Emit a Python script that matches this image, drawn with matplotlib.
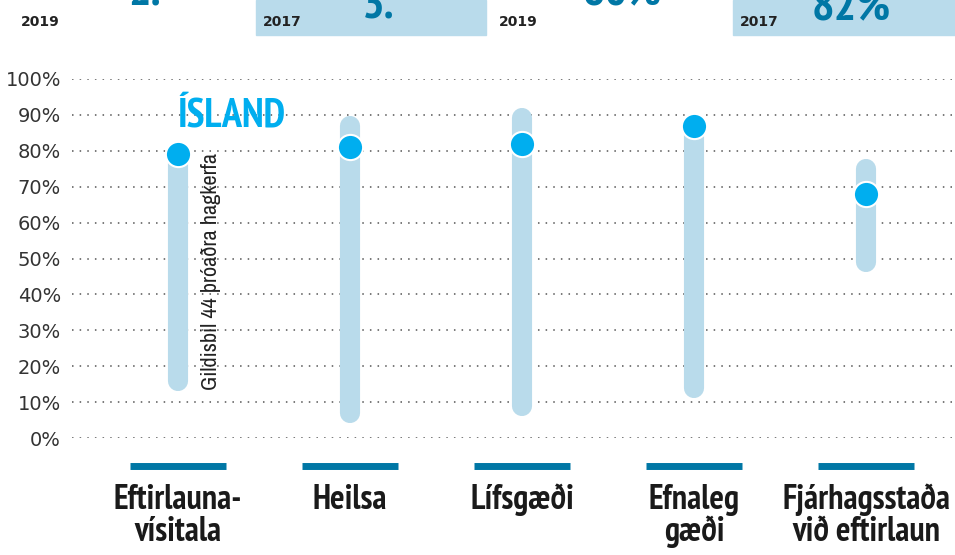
import matplotlib
matplotlib.use('Agg')
import matplotlib.pyplot as plt
from matplotlib.patches import Rectangle
from matplotlib import font_manager
from matplotlib.font_manager import FontProperties

#данные
flokkar = ['Eftirlauna-\nvísitala', 'Heilsa', 'Lífsgæði', 'Efnaleg\ngæði', 'Fjárhagsstaða\nvið eftirlaun']
bil_min = [16, 7, 9, 14, 49]      # neðri mörk bils (%)
bil_max = [79, 87, 89, 87, 75]    # efri mörk bils (%)
island = [79, 81, 82, 87, 68]     # gildi Íslands (%)
yticks = list(range(0, 101, 10))

# toppur (skorið af)
ar_texti = ['2019', '2017', '2019', '2017']
ar_x = [21, 263, 499, 740]
stor_tala = ['2.', '3.', '80%', '82%']
stor_x = [145, 378, 622, 851]
stor_y = [5, 18, 5, 20]

ljosblar = '#b9dbeb'
blar = '#00aeef'
dokkblar = '#0077a5'

#ищем узкий шрифт (обычный и жирный), сначала Narrow
def w(f):
    try:
        return int(f.weight)
    except ValueError:
        return {'bold': 700, 'semibold': 600, 'demibold': 600, 'heavy': 800,
                'black': 900, 'normal': 400, 'regular': 400, 'light': 300}.get(f.weight, 400)

def pick(bold):
    tl = font_manager.fontManager.ttflist
    for test in (lambda f: 'Narrow' in f.name,
                 lambda f: 'Condensed' in f.name or f.stretch in ('condensed', 'semi-condensed')):
        c = [f for f in tl if test(f) and f.style == 'normal' and ((w(f) >= 600) == bold)]
        if c:
            c.sort(key=lambda f: abs(w(f) - (700 if bold else 400)))
            return c[0].fname
    return None

bold_file = pick(True)
reg_file = pick(False)

def fp(fname, size, fallback_weight):
    if fname:
        return FontProperties(fname=fname, size=size)
    return FontProperties(family='DejaVu Sans', size=size, weight=fallback_weight, stretch='condensed')

W, H = 955, 555
fig = plt.figure(figsize=(W/100, H/100), dpi=100)

#ramma-kassar efst
for x0, x1 in [(256, 486), (733, 955)]:
    fig.patches.append(Rectangle((x0/W, 1-35/H), (x1-x0)/W, 35/H,
                                 transform=fig.transFigure, color=ljosblar, zorder=0))
for t, x in zip(ar_texti, ar_x):
    fig.text(x/W, 1-22/H, t, fontsize=10, fontweight='bold', color='#222222',
             va='center', ha='left', family=['DejaVu Sans'])
for t, x, y in zip(stor_tala, stor_x, stor_y):
    fig.text(x/W, 1-y/H, t, color=dokkblar, va='baseline', ha='center',
             fontproperties=fp(bold_file, 34, 'bold'))

#ásar
ax = fig.add_axes([72/W, 117/H, (W-72)/W, (438-79)/H])
ax.set_ylim(0, 100)
ax.set_xlim((72-178)/172, (955-178)/172)
for s in ax.spines.values():
    s.set_visible(False)
ax.set_xticks([])
ax.set_yticks(yticks)
ax.set_yticklabels([f'{v}%' for v in yticks], fontsize=14, color='#333333', family='DejaVu Sans')
ax.tick_params(axis='y', length=0, pad=8)
for v in yticks:
    ax.axhline(v, color='#555555', linestyle=(0, (1, 4)), linewidth=1.1, zorder=1)

lab_fp = fp(bold_file, 24.5, 'bold')
for i in range(len(flokkar)):
    ax.plot([i, i], [bil_min[i], bil_max[i]], color=ljosblar, linewidth=14.5,
            solid_capstyle='round', zorder=2)
    ax.scatter([i], [island[i]], s=330, color=blar, edgecolor='white', linewidth=1.5, zorder=3)
    ax.plot([i-0.28, i+0.28], [-7.8, -7.8], color=dokkblar, linewidth=5,
            solid_capstyle='butt', clip_on=False)
    ax.text(i, -12.8, flokkar[i], ha='center', va='top', color='#1a1a1a',
            fontproperties=lab_fp, linespacing=1.0, clip_on=False)

ax.text(0.0, 89.7, 'ÍSLAND', ha='left', va='center', color=blar,
        fontproperties=fp(bold_file, 29, 'bold'))
ax.text(0.19, 13.5, 'Gildisbil 44 þróaðra hagkerfa', rotation=90, ha='center', va='bottom',
        color='#222222', fontproperties=fp(reg_file, 16, 'normal'))

fig.savefig('out.png', dpi=100)
